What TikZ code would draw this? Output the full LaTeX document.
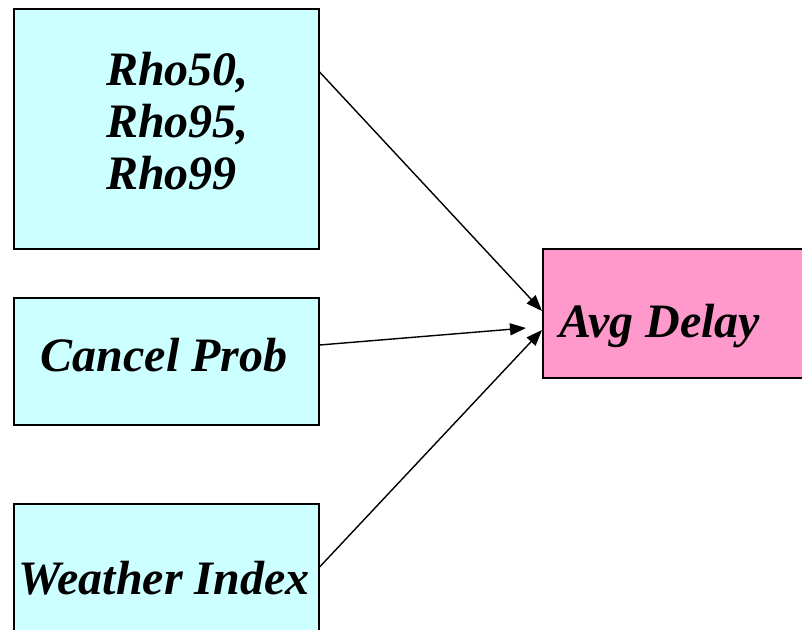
\documentclass[tikz,border=0pt]{standalone}
\usepackage{fontspec}
\setmainfont{Liberation Serif}
\usetikzlibrary{arrows.meta,calc}
\definecolor{boxcyan}{HTML}{CCFFFF}
\definecolor{boxpink}{HTML}{FF99CC}
\begin{document}
\begin{tikzpicture}[x=0.75pt,y=-0.75pt,
  box/.style={draw=black,line width=1.2pt,rectangle,inner sep=0pt,anchor=north west},
  lbl/.style={font=\fontsize{36}{39}\selectfont\bfseries\itshape,inner sep=0pt},
  arr/.style={line width=1.05pt,-{Triangle[length=12pt,width=9pt]}}]
\useasboundingbox (0,0) rectangle (802,630);
\clip (0,0) rectangle (802,630);
\fill[white] (0,0) rectangle (802,630);
\node[box,fill=boxcyan,minimum width=228.75pt,minimum height=180pt] (rho) at (13,8) {};
\node[box,fill=boxcyan,minimum width=228.75pt,minimum height=95.25pt] (cancel) at (13,297) {};
\node[box,fill=boxcyan,minimum width=228.75pt,minimum height=110pt] (weather) at (13,503) {};
\node[box,fill=boxpink,minimum width=201pt,minimum height=96.75pt] (avg) at (542,248) {};
\node[lbl,align=left,anchor=west] (rhotext) at (106,121) {Rho50,\\Rho95,\\Rho99};
\node[lbl] (canceltext) at (164,355) {Cancel Prob};
\node[lbl] (weathertext) at (164,578) {Weather Index};
\node[lbl] (avgtext) at (660,326) {Avg Delay};
\draw[arr] ($(rho.north east)+(0,64)$) -- ($(avg.north west)+(0,63)$);
\draw[arr] ($(cancel.north east)+(0,48)$) -- ($(avg.north west)+(-16,80)$);
\draw[arr] ($(weather.north east)+(0,64)$) -- ($(avg.north west)+(0,82)$);
\end{tikzpicture}
\end{document}
